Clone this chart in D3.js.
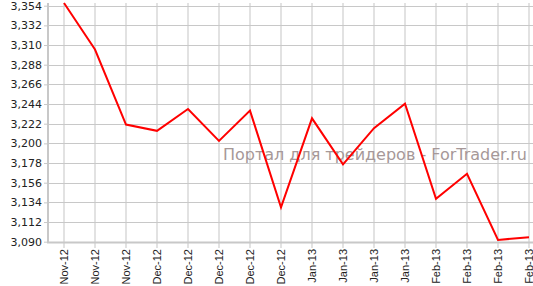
<!DOCTYPE html>
<html>
<head>
<meta charset="utf-8">
<script src="https://cdn.jsdelivr.net/npm/d3@7"></script>
<style>
  body { margin: 0; background: #fff; }
  svg { display: block; }
</style>
</head>
<body>
<div id="chart"></div>
<script>
var width = 533;
var height = 286;

var months = ["Nov-12", "Nov-12", "Nov-12", "Dec-12", "Dec-12", "Dec-12", "Dec-12", "Dec-12",
              "Jan-13", "Jan-13", "Jan-13", "Jan-13", "Feb-13", "Feb-13", "Feb-13", "Feb-13"];
var prices = [3357, 3305, 3221, 3214, 3238.5, 3202.7, 3236.6, 3128.5,
              3228, 3176.6, 3217, 3244.4, 3138, 3166, 3092, 3095];
var yTicks = [3090, 3112, 3134, 3156, 3178, 3200, 3222, 3244, 3266, 3288, 3310, 3332, 3354];

var svg = d3.select("#chart")
   .append("svg")
   .attr("width", width)
   .attr("height", height);

var x = d3.scalePoint()
   .domain(d3.range(months.length))
   .range([64, 529]);

var y = d3.scaleLinear()
   .domain([3090, 3354])
   .range([241.7, 5.7]);

// vertical grid (light, thick)
svg.append("g")
   .selectAll("line")
   .data(d3.range(months.length))
   .enter()
   .append("line")
   .attr("x1", function(d) { return x(d); })
   .attr("x2", function(d) { return x(d); })
   .attr("y1", 3)
   .attr("y2", 248)
   .attr("stroke", "#e2e2e2")
   .attr("stroke-width", 2);

// horizontal grid
svg.append("g")
   .selectAll("line")
   .data(yTicks)
   .enter()
   .append("line")
   .attr("x1", 48)
   .attr("x2", width)
   .attr("y1", function(d) { return Math.round(y(d)) + 0.5; })
   .attr("y2", function(d) { return Math.round(y(d)) + 0.5; })
   .attr("stroke", "#c8c8c8")
   .attr("stroke-width", 1);

// y axis
var yAxis = svg.append("g")
   .attr("transform", "translate(48,0)")
   .call(d3.axisLeft(y).tickValues(yTicks).tickFormat(d3.format(",")).tickSize(4).tickPadding(2));
yAxis.select(".domain").attr("stroke", "#c8c8c8").attr("stroke-width", 2).attr("d", "M0,3V243");
yAxis.selectAll(".tick line").attr("stroke", "#c8c8c8");
yAxis.selectAll("text")
   .attr("font-family", "DejaVu Sans, Verdana, sans-serif")
   .attr("font-size", "11px")
   .attr("fill", "#222");

// x axis line
svg.append("line")
   .attr("x1", 47)
   .attr("x2", width)
   .attr("y1", 242.5)
   .attr("y2", 242.5)
   .attr("stroke", "#c8c8c8")
   .attr("stroke-width", 2);

// x labels
svg.append("g")
   .selectAll("text")
   .data(months)
   .enter()
   .append("text")
   .attr("transform", function(d, i) {
      return "translate(" + (x(i) + 4) + ",249) rotate(-90)";
   })
   .attr("text-anchor", "end")
   .attr("font-family", "Liberation Sans, Arial, sans-serif")
   .attr("font-size", "11px")
   .attr("fill", "#222")
   .text(function(d) { return d; });

// watermark
svg.append("text")
   .attr("x", 527)
   .attr("y", 160)
   .attr("text-anchor", "end")
   .attr("font-family", "DejaVu Sans, Verdana, sans-serif")
   .attr("font-size", "16px")
   .attr("fill", "#a69898")
   .text("Портал для трейдеров - ForTrader.ru");

// price line
var line = d3.line()
   .x(function(d, i) { return x(i); })
   .y(function(d) { return y(d); });

svg.append("path")
   .datum(prices)
   .attr("d", line)
   .attr("fill", "none")
   .attr("stroke", "#ff0000")
   .attr("stroke-width", 2)
   .attr("stroke-linejoin", "miter");
</script>
</body>
</html>
